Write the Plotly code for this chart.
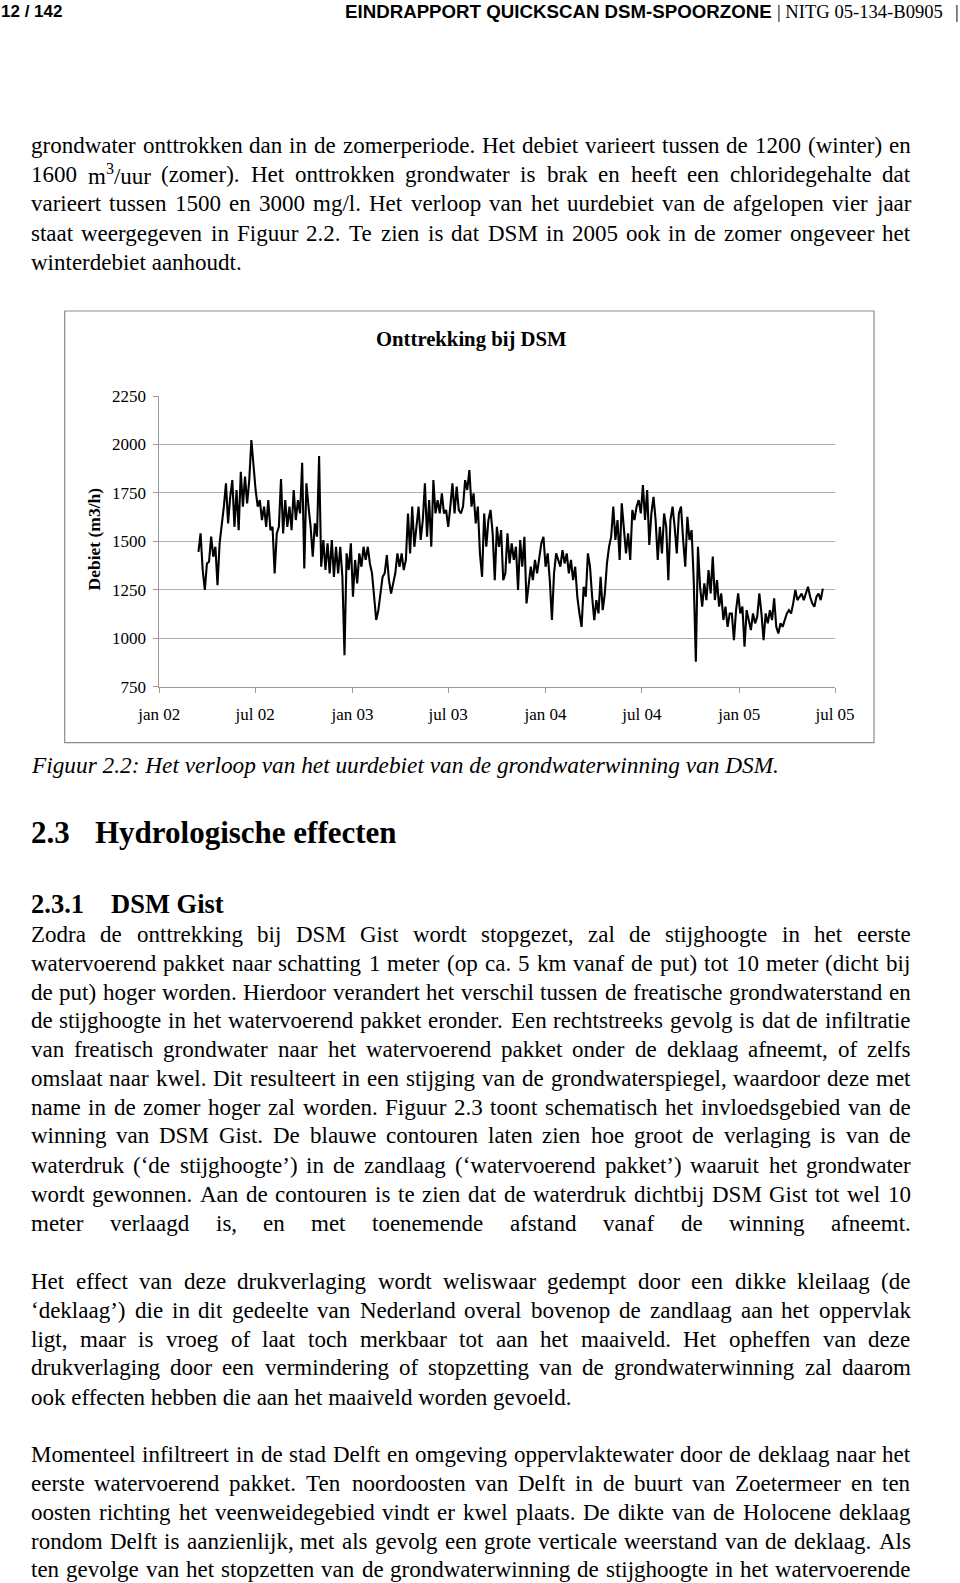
import plotly.graph_objects as go
import pandas as pd

W, H = 960, 1583

# ---------------- chart data ----------------
START_DATE = "2002-03-16"
STEP_DAYS = 4

debiet_mar02_dec02 = [1446, 1541, 1352, 1249, 1386, 1395, 1524, 1421, 1472, 1274,
                      1490, 1575, 1679, 1799, 1593, 1730, 1816, 1575, 1765, 1558,
                      1859, 1679, 1834, 1696, 1816, 2023, 1885, 1765, 1679, 1713,
                      1610, 1679, 1575, 1713, 1558, 1575, 1335, 1541, 1575, 1822,
                      1541, 1713, 1575, 1679, 1558, 1765, 1610, 1713, 1644, 1906,
                      1360, 1799, 1679, 1575, 1421, 1593, 1524, 1940, 1369, 1507,
                      1352, 1490, 1335, 1507, 1317, 1472, 1335, 1472, 1317, 913,
                      1438, 1352]
debiet_dec02_dec03 = [1490, 1214, 1404, 1283, 1438, 1369, 1472, 1404, 1472, 1386,
                      1335, 1231, 1094, 1145, 1231, 1317, 1335, 1429, 1300, 1231,
                      1283, 1335, 1438, 1369, 1438, 1352, 1404, 1644, 1438, 1679,
                      1472, 1593, 1679, 1507, 1610, 1799, 1524, 1713, 1472, 1816,
                      1644, 1713, 1644, 1748, 1644, 1662, 1575, 1679, 1799, 1644,
                      1782, 1662, 1644, 1679, 1816, 1765, 1868, 1679, 1748, 1593,
                      1679, 1438, 1317, 1644, 1472, 1610, 1662, 1541, 1300, 1575,
                      1472, 1558, 1300, 1335, 1541, 1386, 1490, 1404, 1472, 1249,
                      1507, 1369, 1524, 1180, 1266, 1369, 1300, 1404, 1335, 1421]
debiet_dec03_dec04 = [1490, 1524, 1369, 1438, 1300, 1094, 1335, 1438, 1404, 1369,
                      1455, 1386, 1438, 1335, 1404, 1300, 1369, 1214, 1128, 1059,
                      1266, 1214, 1438, 1369, 1214, 1094, 1197, 1128, 1317, 1145,
                      1231, 1386, 1472, 1524, 1679, 1507, 1610, 1404, 1696, 1575,
                      1438, 1541, 1404, 1662, 1610, 1679, 1713, 1644, 1790, 1610,
                      1765, 1481, 1644, 1730, 1610, 1404, 1575, 1438, 1644, 1575,
                      1300, 1610, 1679, 1575, 1438, 1644, 1679, 1507, 1369, 1627,
                      1507, 1558, 1300, 879, 1472, 1266, 1163, 1283, 1197, 1352,
                      1231, 1421, 1197, 1300, 1163, 1231, 1094, 1163, 1059, 1128]
debiet_dec04_jun05 = [1128, 990, 1145, 1231, 1128, 1163, 956, 1145, 1094, 1042,
                      1128, 1077, 1111, 1231, 1128, 990, 1128, 1077, 1145, 1094,
                      1206, 1059, 1025, 1077, 1059, 1094, 1128, 1145, 1128, 1180,
                      1249, 1197, 1214, 1231, 1197, 1231, 1266, 1214, 1180, 1163,
                      1214, 1231, 1197, 1256]

x_tick_dates = ["2002-01-01", "2002-07-01", "2003-01-01", "2003-07-01",
                "2004-01-01", "2004-07-01", "2005-01-01", "2005-07-01"]
x_tick_labels = ["jan 02", "jul 02", "jan 03", "jul 03",
                 "jan 04", "jul 04", "jan 05", "jul 05"]
y_ticks = [750, 1000, 1250, 1500, 1750, 2000, 2250]

chart_title = "Onttrekking bij DSM"
y_title = "Debiet (m3/h)"

# ---------------- page text ----------------
header_left = "12 / 142"
header_mid = "EINDRAPPORT QUICKSCAN DSM-SPOORZONE"
header_right = "| NITG 05-134-B0905"

para1 = [
    ("grondwater onttrokken dan in de zomerperiode. Het debiet varieert tussen de 1200 (winter) en", True),
    ("1600 m³/uur (zomer). Het onttrokken grondwater is brak en heeft een chloridegehalte dat", True),
    ("varieert tussen 1500 en 3000 mg/l. Het verloop van het uurdebiet van de afgelopen vier jaar", True),
    ("staat weergegeven in Figuur 2.2. Te zien is dat DSM in 2005 ook in de zomer ongeveer het", True),
    ("winterdebiet aanhoudt.", False),
]
para1_y = [145.4, 174.6, 203.9, 233.2, 262.5]

caption = "Figuur 2.2: Het verloop van het uurdebiet van de grondwaterwinning van DSM."

para2 = [
    ("Zodra de onttrekking bij DSM Gist wordt stopgezet, zal de stijghoogte in het eerste", True),
    ("watervoerend pakket naar schatting 1 meter (op ca. 5 km vanaf de put) tot 10 meter (dicht bij", True),
    ("de put) hoger worden. Hierdoor verandert het verschil tussen de freatische grondwaterstand en", True),
    ("de stijghoogte in het watervoerend pakket eronder. Een rechtstreeks gevolg is dat de infiltratie", True),
    ("van freatisch grondwater naar het watervoerend pakket onder de deklaag afneemt, of zelfs", True),
    ("omslaat naar kwel. Dit resulteert in een stijging van de grondwaterspiegel, waardoor deze met", True),
    ("name in de zomer hoger zal worden. Figuur 2.3 toont schematisch het invloedsgebied van de", True),
    ("winning van DSM Gist. De blauwe contouren laten zien hoe groot de verlaging is van de", True),
    ("waterdruk (‘de stijghoogte’) in de zandlaag (‘watervoerend pakket’) waaruit het grondwater", True),
    ("wordt gewonnen. Aan de contouren is te zien dat de waterdruk dichtbij DSM Gist tot wel 10", True),
    ("meter verlaagd is, en met toenemende afstand vanaf de winning afneemt.", True),
]
para2_y = [934.8, 963.1, 992.4, 1020.6, 1049.9, 1078.1, 1107.4, 1135.7, 1165.0, 1194.2, 1223.5]

para3 = [
    ("Het effect van deze drukverlaging wordt weliswaar gedempt door een dikke kleilaag (de", True),
    ("‘deklaag’) die in dit gedeelte van Nederland overal bovenop de zandlaag aan het oppervlak", True),
    ("ligt, maar is vroeg of laat toch merkbaar tot aan het maaiveld. Het opheffen van deze", True),
    ("drukverlaging door een vermindering of stopzetting van de grondwaterwinning zal daarom", True),
    ("ook effecten hebben die aan het maaiveld worden gevoeld.", False),
]
para3_y = [1281.0, 1310.3, 1339.6, 1367.9, 1397.2]

para4 = [
    ("Momenteel infiltreert in de stad Delft en omgeving oppervlaktewater door de deklaag naar het", True),
    ("eerste watervoerend pakket. Ten noordoosten van Delft in de buurt van Zoetermeer en ten", True),
    ("oosten richting het veenweidegebied vindt er kwel plaats. De dikte van de Holocene deklaag", True),
    ("rondom Delft is aanzienlijk, met als gevolg een grote verticale weerstand van de deklaag. Als", True),
    ("ten gevolge van het stopzetten van de grondwaterwinning de stijghoogte in het watervoerende", True),
]
para4_y = [1454.7, 1483.0, 1512.3, 1541.5, 1569.8]

# ---------------- layout constants ----------------
SERIF = "Liberation Serif, Times New Roman, serif"
SANS = "Liberation Sans, Arial, sans-serif"
BODY = 23
LEFT, RIGHT = 30.0, 909.5

# Times / Liberation Serif advance widths (per 1000 em)
TIMES = {}
for ch, w in zip("abcdefghijklmnopqrstuvwxyz",
                 [444, 500, 444, 500, 444, 333, 500, 500, 278, 278, 500, 278, 778,
                  500, 500, 500, 500, 333, 389, 278, 500, 500, 722, 500, 500, 444]):
    TIMES[ch] = w
for ch, w in zip("ABCDEFGHIJKLMNOPQRSTUVWXYZ",
                 [722, 667, 667, 722, 611, 556, 722, 722, 333, 389, 722, 611, 889,
                  722, 722, 556, 722, 667, 556, 611, 722, 722, 944, 722, 722, 611]):
    TIMES[ch] = w
for ch in "0123456789":
    TIMES[ch] = 500
TIMES.update({" ": 250, ".": 250, ",": 250, ":": 278, ";": 278, "(": 333, ")": 333,
              "-": 333, "/": 278, "‘": 333, "’": 333, "³": 350})


def px_x(x):
    return x / W


def px_y(y):
    return 1 - y / H


annotations = []


def add_text(text, x, y, size, family=SERIF, xanchor="left", color="black", angle=0):
    annotations.append(dict(text=text, x=px_x(x), y=px_y(y), xref="paper", yref="paper",
                            xanchor=xanchor, yanchor="middle", showarrow=False,
                            borderpad=0, textangle=angle,
                            font=dict(family=family, size=size, color=color)))


def word_width(word, size):
    return sum(TIMES.get(c, 500) for c in word) * size / 1000.0


def place_line(text, y, justify):
    if not justify:
        add_text(text.replace("³", "<sup>3</sup>"), LEFT, y, BODY)
        return
    words = text.split(" ")
    widths = [word_width(w, BODY) for w in words]
    gap = (RIGHT - LEFT - sum(widths)) / (len(words) - 1)
    x = LEFT
    for w, wd in zip(words, widths):
        add_text(w.replace("³", "<sup>3</sup>"), x, y, BODY)
        x += wd + gap


for (t, j), y in zip(para1, para1_y):
    place_line(t, y, j)
for (t, j), y in zip(para2, para2_y):
    place_line(t, y, j)
for (t, j), y in zip(para3, para3_y):
    place_line(t, y, j)
for (t, j), y in zip(para4, para4_y):
    place_line(t, y, j)

# header
add_text("<b>" + header_left + "</b>", 0, 11, 17, family=SANS)
add_text("<b>" + header_mid + "</b>", 344, 11, 18.7, family=SANS)
add_text(header_right, 776, 11, 18.6, family=SERIF)
add_text("|", 957, 11, 18.6, family=SERIF, xanchor="center")

# caption & headings
add_text("<i>" + caption + "</i>", LEFT, 765, 23.3)
add_text("<b>2.3</b>", LEFT, 832, 31)
add_text("<b>Hydrologische effecten</b>", 94, 832, 31)
add_text("<b>2.3.1</b>", LEFT, 903.5, 26.5)
add_text("<b>DSM Gist</b>", 110, 903.5, 26.5)

# chart title and y title
add_text("<b>" + chart_title + "</b>", 471, 339, 20.7, xanchor="center")
add_text("<b>" + y_title + "</b>", 93.5, 539, 17.5, xanchor="center", angle=-90)

# ---------------- series ----------------
values = debiet_mar02_dec02 + debiet_dec02_dec03 + debiet_dec03_dec04 + debiet_dec04_jun05
dates = pd.date_range(START_DATE, periods=len(values), freq=f"{STEP_DAYS}D")

fig = go.Figure()
fig.add_trace(go.Scatter(x=dates, y=values, mode="lines",
                         line=dict(color="black", width=2.1), hoverinfo="x+y",
                         showlegend=False))

X0, X1 = 159.3, 835.0
Y_TOP, Y_BOT = 396.0, 686.7

fig.update_layout(
    width=W, height=H, autosize=False,
    margin=dict(l=0, r=0, t=0, b=0, pad=0, autoexpand=False),
    paper_bgcolor="white", plot_bgcolor="white",
    showlegend=False,
    annotations=annotations,
    xaxis=dict(domain=[px_x(X0), px_x(X1)], type="date", automargin=False,
               range=["2002-01-01", "2005-07-01"],
               tickvals=x_tick_dates, ticktext=x_tick_labels,
               showgrid=False, zeroline=False,
               showline=True, linecolor="#9a9a9a", linewidth=1,
               ticks="outside", ticklen=5, tickcolor="#9a9a9a",
               ticklabelstandoff=7,
               tickfont=dict(family=SERIF, size=17, color="black")),
    yaxis=dict(domain=[px_y(Y_BOT), px_y(Y_TOP)], automargin=False,
               range=[750, 2250], tickvals=y_ticks,
               showgrid=True, gridcolor="#b0b0b0", gridwidth=1,
               zeroline=False,
               showline=True, linecolor="#9a9a9a", linewidth=1,
               ticks="outside", ticklen=5, tickcolor="#9a9a9a",
               ticklabelstandoff=4,
               tickfont=dict(family=SERIF, size=17, color="black")),
    shapes=[dict(type="rect", xref="paper", yref="paper",
                 x0=px_x(64.7), x1=px_x(874.0), y0=px_y(742.7), y1=px_y(311.0),
                 line=dict(color="#8c8c8c", width=1.2), fillcolor="rgba(0,0,0,0)",
                 layer="below")],
)

fig.write_html("out.html", config={"displayModeBar": False},
               post_script="document.body.style.margin='0px';")
